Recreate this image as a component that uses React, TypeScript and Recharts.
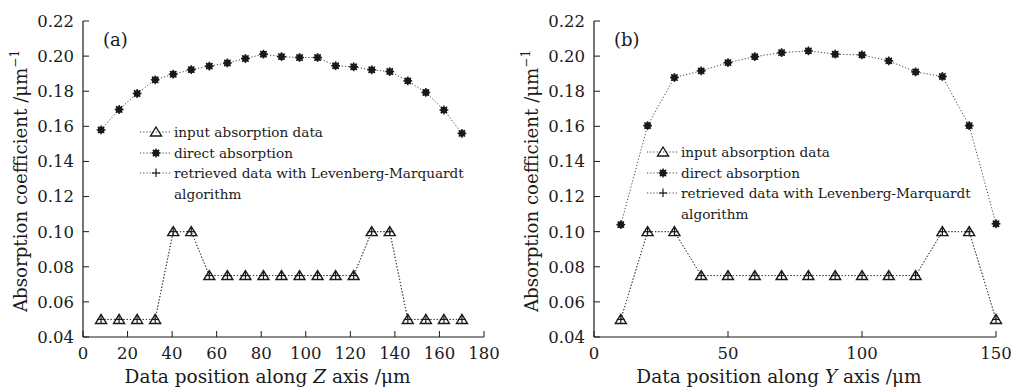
import { LineChart, Line, XAxis, YAxis, Legend, Label } from 'recharts'

// panel (a): along Z
const zPositions = [8.1, 16.2, 24.3, 32.4, 40.5, 48.6, 56.7, 64.8, 72.9, 81, 89.1, 97.2, 105.3, 113.4, 121.5, 129.6, 137.7, 145.8, 153.9, 162, 170.1]
const zInput = [0.05, 0.05, 0.05, 0.05, 0.1, 0.1, 0.075, 0.075, 0.075, 0.075, 0.075, 0.075, 0.075, 0.075, 0.075, 0.1, 0.1, 0.05, 0.05, 0.05, 0.05]
const zRetrieved = [0.05, 0.05, 0.05, 0.05, 0.1, 0.1, 0.075, 0.075, 0.075, 0.075, 0.075, 0.075, 0.075, 0.075, 0.075, 0.1, 0.1, 0.05, 0.05, 0.05, 0.05]
const zDirect = [0.158, 0.1696, 0.1787, 0.1865, 0.1897, 0.1923, 0.1943, 0.1961, 0.1986, 0.2011, 0.1997, 0.1992, 0.1992, 0.1945, 0.1939, 0.1922, 0.1912, 0.1859, 0.1793, 0.1693, 0.156]
const zTicks = [0, 20, 40, 60, 80, 100, 120, 140, 160, 180]

// panel (b): along Y
const yPositions = [10, 20, 30, 40, 50, 60, 70, 80, 90, 100, 110, 120, 130, 140, 150]
const yInput = [0.05, 0.1, 0.1, 0.075, 0.075, 0.075, 0.075, 0.075, 0.075, 0.075, 0.075, 0.075, 0.1, 0.1, 0.05]
const yRetrieved = [0.05, 0.1, 0.1, 0.075, 0.075, 0.075, 0.075, 0.075, 0.075, 0.075, 0.075, 0.075, 0.1, 0.1, 0.05]
const yDirect = [0.104, 0.1604, 0.1878, 0.1916, 0.1963, 0.1997, 0.202, 0.203, 0.2011, 0.2007, 0.1973, 0.191, 0.1884, 0.1604, 0.1045]
const yTicks = [0, 50, 100, 150]

const absTicks = [0.04, 0.06, 0.08, 0.1, 0.12, 0.14, 0.16, 0.18, 0.2, 0.22]
const legendNames = ['input absorption data', 'direct absorption', 'retrieved data with Levenberg-Marquardt']

const FONT = '"DejaVu Serif", serif'
const INK = '#1a1a1a'
const LINE = '#444'
const GAP = 9

function TriangleDot({ cx, cy }: any) {
  if (cx == null || cy == null) return null
  return <path d={`M${cx},${cy - 5} L${cx + 5.5},${cy + 4} L${cx - 5.5},${cy + 4} Z`} fill="none" stroke={INK} strokeWidth={1.4} />
}

function PlusDot({ cx, cy }: any) {
  if (cx == null || cy == null) return null
  return (
    <g stroke={INK} strokeWidth={1.2}>
      <line x1={cx - 4} y1={cy} x2={cx + 4} y2={cy} />
      <line x1={cx} y1={cy - 4.5} x2={cx} y2={cy + 4} />
    </g>
  )
}

function StarDot({ cx, cy }: any) {
  if (cx == null || cy == null) return null
  const r = 4.4
  const d = r * 0.72
  return (
    <g stroke={INK} strokeWidth={1.5}>
      <circle cx={cx} cy={cy} r={2.6} fill={INK} />
      <line x1={cx - r} y1={cy} x2={cx + r} y2={cy} />
      <line x1={cx} y1={cy - r} x2={cx} y2={cy + r} />
      <line x1={cx - d} y1={cy - d} x2={cx + d} y2={cy + d} />
      <line x1={cx - d} y1={cy + d} x2={cx + d} y2={cy - d} />
    </g>
  )
}

const XTick = ({ x, y, payload }: any) => (
  <g>
    <line x1={x} y1={y - GAP} x2={x} y2={y - GAP - 6} stroke={INK} strokeWidth={1} />
    <text x={x} y={y} dy="0.76em" textAnchor="middle" fontFamily={FONT} fontSize={16.5} fill={INK}>
      {payload.value}
    </text>
  </g>
)

const YTick = ({ x, y, payload }: any) => (
  <g>
    <line x1={x + GAP} y1={y} x2={x + GAP + 6} y2={y} stroke={INK} strokeWidth={1} />
    <text x={x} y={y} dy="0.36em" textAnchor="end" fontFamily={FONT} fontSize={16.5} fill={INK}>
      {Number(payload.value).toFixed(2)}
    </text>
  </g>
)

function LegendBox() {
  const dots = [TriangleDot, StarDot, PlusDot]
  return (
    <div style={{ fontFamily: FONT, fontSize: 13.6, color: INK, lineHeight: '20.5px' }}>
      {legendNames.map((name, i) => {
        const Dot = dots[i]
        return (
          <div key={name} style={{ display: 'flex', alignItems: 'flex-start' }}>
            <svg width={32} height={20} style={{ flex: 'none' }}>
              <line x1={0} y1={10} x2={32} y2={10} stroke={LINE} strokeDasharray="1.2 2" />
              <Dot cx={16} cy={10} />
            </svg>
            <span style={{ marginLeft: 2, whiteSpace: 'nowrap' }}>
              {name}
              {i === 2 && <><br />algorithm</>}
            </span>
          </div>
        )
      })}
    </div>
  )
}

function Panel(props: {
  positions: number[]
  input: number[]
  retrieved: number[]
  direct: number[]
  xMax: number
  xTicks: number[]
  axis: string
  tag: string
  width: number
  marginLeft: number
  marginRight: number
  legendLeft: number
  legendTop: number
  labelShift: number
}) {
  const data = props.positions.map((p, i) => ({
    pos: p,
    input: props.input[i],
    retrieved: props.retrieved[i],
    direct: props.direct[i],
  }))
  return (
    <div style={{ position: 'relative', width: props.width, height: 387 }}>
      <LineChart
        width={props.width}
        height={387}
        data={data}
        margin={{ top: 21, right: props.marginRight, left: props.marginLeft, bottom: 10 }}
      >
        <XAxis
          dataKey="pos"
          type="number"
          domain={[0, props.xMax]}
          ticks={props.xTicks}
          height={40}
          tickSize={0}
          tickMargin={GAP}
          tickLine={false}
          axisLine={{ stroke: INK, strokeWidth: 1.2 }}
          tick={(p: any) => <XTick key={`xt-${p.index}`} {...p} />}
          interval={0}
        >
          <Label
            content={({ viewBox }: any) => (
              <text
                x={viewBox.x + viewBox.width / 2 + props.labelShift}
                y={viewBox.y + 46}
                textAnchor="middle"
                fontFamily={FONT}
                fontSize={18.5}
                fill={INK}
              >
                Data position along <tspan fontStyle="italic">{props.axis}</tspan> axis /μm
              </text>
            )}
          />
        </XAxis>
        <XAxis
          xAxisId="top"
          orientation="top"
          type="number"
          domain={[0, props.xMax]}
          height={0}
          tick={false}
          tickLine={false}
          axisLine={{ stroke: INK, strokeWidth: 1.2 }}
        />
        <YAxis
          type="number"
          domain={[0.04, 0.22]}
          ticks={absTicks}
          width={60}
          tickSize={0}
          tickMargin={GAP}
          tickLine={false}
          axisLine={{ stroke: INK, strokeWidth: 1.2 }}
          tick={(p: any) => <YTick key={`yt-${p.index}`} {...p} />}
          interval={0}
        >
          <Label
            content={({ viewBox }: any) => {
              const cx = viewBox.x + viewBox.width - 62
              const cy = viewBox.y + viewBox.height / 2 + 2
              return (
                <text
                  x={cx}
                  y={cy}
                  dy="0.35em"
                  transform={`rotate(-90, ${cx}, ${cy})`}
                  textAnchor="middle"
                  fontFamily={FONT}
                  fontSize={18.2}
                  fill={INK}
                >
                  Absorption coefficient /μm
                  <tspan dy={-8} fontSize={12}>−1</tspan>
                </text>
              )
            }}
          />
        </YAxis>
        <YAxis
          yAxisId="right"
          orientation="right"
          type="number"
          domain={[0.04, 0.22]}
          width={0}
          tick={false}
          tickLine={false}
          axisLine={{ stroke: INK, strokeWidth: 1.2 }}
        />
        <Legend
          layout="vertical"
          align="center"
          verticalAlign="middle"
          wrapperStyle={{ left: props.legendLeft, top: props.legendTop, width: 'auto' }}
          content={() => <LegendBox />}
        />
        <Line
          dataKey="input"
          type="linear"
          stroke={LINE}
          strokeWidth={1}
          strokeDasharray="1.2 2"
          dot={(p: any) => <TriangleDot key={`tri-${p.index}`} {...p} />}
          activeDot={false}
          isAnimationActive={false}
        />
        <Line
          dataKey="retrieved"
          type="linear"
          stroke={LINE}
          strokeWidth={1}
          strokeDasharray="1.2 2"
          dot={(p: any) => <PlusDot key={`pl-${p.index}`} {...p} />}
          activeDot={false}
          isAnimationActive={false}
        />
        <Line
          dataKey="direct"
          type="linear"
          stroke={LINE}
          strokeWidth={1}
          strokeDasharray="1.2 2"
          dot={(p: any) => <StarDot key={`st-${p.index}`} {...p} />}
          activeDot={false}
          isAnimationActive={false}
        />
      </LineChart>
      <div
        style={{
          position: 'absolute',
          left: props.marginLeft + 60 + 20,
          top: 29,
          fontFamily: FONT,
          fontSize: 18,
          color: INK,
        }}
      >
        {props.tag}
      </div>
    </div>
  )
}

export default function App() {
  return (
    <div style={{ position: 'absolute', left: 0, top: 0, width: 1011, height: 387, background: '#fff', display: 'flex' }}>
      <Panel
        positions={zPositions}
        input={zInput}
        retrieved={zRetrieved}
        direct={zDirect}
        xMax={180}
        xTicks={zTicks}
        axis="Z"
        tag="(a)"
        width={505}
        marginLeft={23}
        marginRight={21}
        legendLeft={140}
        legendTop={122}
        labelShift={-16}
      />
      <Panel
        positions={yPositions}
        input={yInput}
        retrieved={yRetrieved}
        direct={yDirect}
        xMax={150}
        xTicks={yTicks}
        axis="Y"
        tag="(b)"
        width={506}
        marginLeft={29}
        marginRight={15}
        legendLeft={142}
        legendTop={142}
        labelShift={-16}
      />
    </div>
  )
}
